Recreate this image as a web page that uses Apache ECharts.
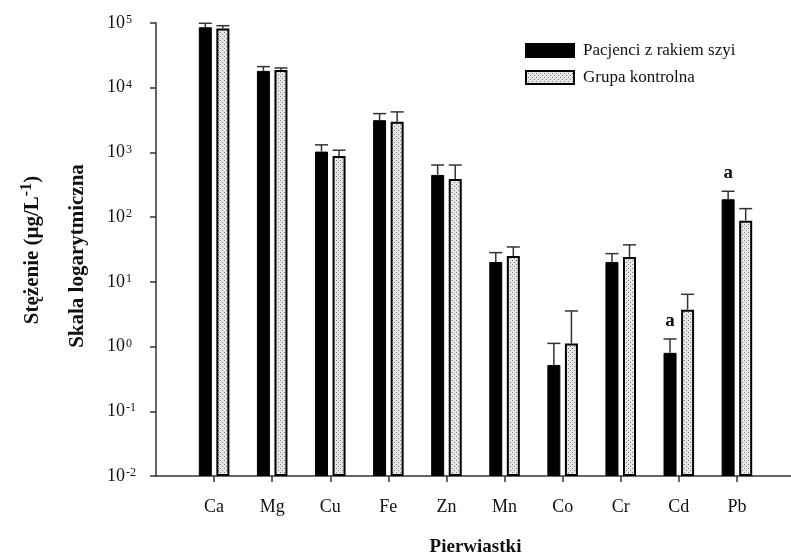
<!DOCTYPE html>
<html>
<head>
<meta charset="utf-8">
<script src="https://cdn.jsdelivr.net/npm/echarts@6/dist/echarts.min.js"></script>
<style>
  html, body { margin: 0; padding: 0; background: #fff; }
  #chart { width: 791px; height: 556px; }
</style>
</head>
<body>
<div id="chart"></div>
<script>
// Element concentrations (µg/L), log scale
const elements = ['Ca', 'Mg', 'Cu', 'Fe', 'Zn', 'Mn', 'Co', 'Cr', 'Cd', 'Pb'];
const patients = [86000, 18200, 1030, 3150, 449, 20.3, 0.52, 20.3, 0.80, 189];
const patientsErr = [13000, 3000, 280, 830, 190, 8, 0.6, 7, 0.51, 62];
const control = [81900, 18800, 883, 2990, 389, 25.1, 1.12, 24.3, 3.72, 88.3];
const controlErr = [9000, 1400, 200, 1240, 250, 9.5, 2.43, 13, 2.7, 47];
const patientsMark = ['', '', '', '', '', '', '', '', 'a', 'a'];
const seriesNames = ['Pacjenci z rakiem szyi', 'Grupa kontrolna'];

const FONT = "'Liberation Serif', 'Times New Roman', serif";
const BAR_W = 13;
const BAR_GAP = 0.35;

// padded category list so the first/last elements sit one step in from the ends
const cats = [''].concat(elements, ['']);
const pad = arr => ['-'].concat(arr, ['-']);

// stippled fill for the control bars
function makeDots() {
  const c = document.createElement('canvas');
  c.width = 4; c.height = 4;
  const g = c.getContext('2d');
  g.fillStyle = '#e6e6e6';
  g.fillRect(0, 0, 4, 4);
  g.fillStyle = '#808080';
  g.fillRect(0, 0, 1, 1);
  g.fillRect(2, 2, 1, 1);
  return c;
}
const dotFill = { image: makeDots(), repeat: 'repeat' };

function errData(vals, errs) {
  return vals.map((v, i) => [i + 1, v, errs[i]]);
}

function errorBars(offsetSign, marks) {
  return function (params, api) {
    const idx = api.value(0), v = api.value(1), e = api.value(2);
    const off = offsetSign * (BAR_W * (1 + BAR_GAP)) / 2;
    const p0 = api.coord([idx, v]);
    const p1 = api.coord([idx, v + e]);
    const cx = p0[0] + off;
    const children = [
      { type: 'line', shape: { x1: cx, y1: p0[1], x2: cx, y2: p1[1] },
        style: { stroke: '#333', lineWidth: 1.5 } },
      { type: 'line', shape: { x1: cx - BAR_W / 2, y1: p1[1], x2: cx + BAR_W / 2, y2: p1[1] },
        style: { stroke: '#333', lineWidth: 1.5 } }
    ];
    const m = marks ? marks[params.dataIndex] : '';
    if (m) {
      children.push({ type: 'text', x: cx, y: p1[1] - 18,
        style: { text: m, font: 'bold 19px ' + FONT, fill: '#111', align: 'center', verticalAlign: 'middle' } });
    }
    return { type: 'group', children };
  };
}

const chart = echarts.init(document.getElementById('chart'), null, { renderer: 'canvas' });
chart.setOption({
  animation: false,
  backgroundColor: '#fff',
  grid: { left: 156, top: 23, width: 639, height: 453, containLabel: false, outerBoundsMode: 'none' },
  legend: {
    orient: 'vertical', left: 520, top: 37, itemWidth: 48, itemHeight: 13, itemGap: 10,
    icon: 'rect',
    data: seriesNames,
    textStyle: { fontFamily: FONT, fontSize: 17, color: '#111', padding: [0, 0, 0, 4] }
  },
  xAxis: {
    type: 'category', data: cats, boundaryGap: false,
    axisLine: { lineStyle: { color: '#333', width: 1.5 } },
    axisTick: { show: true, length: 6, lineStyle: { color: '#333', width: 1.5 },
      interval: (i, v) => v !== '' },
    axisLabel: { fontFamily: FONT, fontSize: 18, color: '#111', margin: 22, interval: 0 },
    name: 'Pierwiastki', nameLocation: 'middle', nameGap: 62,
    nameTextStyle: { fontFamily: FONT, fontSize: 19, fontWeight: 'bold', color: '#111' }
  },
  yAxis: {
    type: 'log', logBase: 10, min: 0.01, max: 100000, startValue: 0.01,
    splitLine: { show: false },
    axisLine: { show: true, lineStyle: { color: '#333', width: 1.5 } },
    axisTick: { show: true, length: 6, lineStyle: { color: '#333', width: 1.5 } },
    minorTick: { show: false },
    axisLabel: {
      fontFamily: FONT, fontSize: 17, color: '#111', margin: 49, align: 'left',
      formatter: v => '{b|10}{s|' + Math.round(Math.log10(v)) + '}',
      rich: {
        b: { fontFamily: FONT, fontSize: 18, color: '#111', verticalAlign: 'bottom', lineHeight: 18 },
        s: { fontFamily: FONT, fontSize: 12, color: '#111', verticalAlign: 'top', lineHeight: 18, padding: [0, 0, 0, 1] }
      }
    }
  },
  graphic: [
    { type: 'text', x: 31, y: 250, rotation: Math.PI / 2,
      style: { text: '{b|Stężenie (μg/L}{s|-1}{b|)}', align: 'center', verticalAlign: 'middle',
        rich: {
          b: { font: 'bold 21px ' + FONT, fill: '#111', verticalAlign: 'bottom', lineHeight: 25 },
          s: { font: 'bold 16px ' + FONT, fill: '#111', verticalAlign: 'top', lineHeight: 25 }
        } } },
    { type: 'text', x: 78, y: 256, rotation: Math.PI / 2,
      style: { text: 'Skala logarytmiczna', font: 'bold 21px ' + FONT, fill: '#111',
        align: 'center', verticalAlign: 'middle' } }
  ],
  series: [
    { name: seriesNames[0], type: 'bar', data: pad(patients), barWidth: BAR_W, barGap: (BAR_GAP * 100) + '%',
      itemStyle: { color: '#000', borderColor: '#000', borderWidth: 1 } },
    { name: seriesNames[1], type: 'bar', data: pad(control), barWidth: BAR_W,
      itemStyle: { color: dotFill, borderColor: '#000', borderWidth: 2 } },
    { type: 'custom', renderItem: errorBars(-1, patientsMark), data: errData(patients, patientsErr), z: 3 },
    { type: 'custom', renderItem: errorBars(1, null), data: errData(control, controlErr), z: 3 }
  ]
});
</script>
</body>
</html>
